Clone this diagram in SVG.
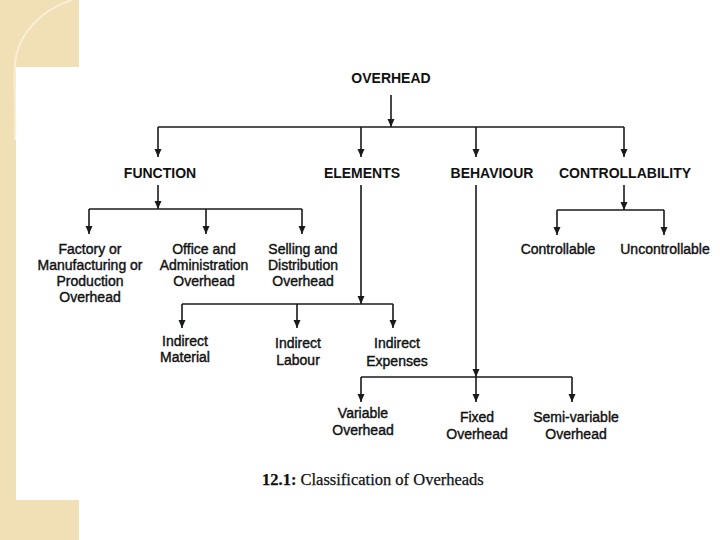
<svg xmlns="http://www.w3.org/2000/svg" width="720" height="540" viewBox="0 0 720 540">
<defs>
<marker id="ah" markerWidth="8" markerHeight="8" refX="8" refY="3.5" orient="auto" markerUnits="userSpaceOnUse">
<path d="M0,0 L8,3.5 L0,7 z" fill="#1a1a1a"/>
</marker>
<style>
.c line, .c path{stroke:#1a1a1a;stroke-width:1.6;fill:none}
.a{marker-end:url(#ah)}
.h{font-family:"Liberation Sans",Arial,sans-serif;font-size:14px;font-weight:bold;fill:#111;text-anchor:middle}
.l{font-family:"Liberation Sans",Arial,sans-serif;font-size:14px;fill:#111;text-anchor:middle;stroke:#111;stroke-width:0.4}
.cap{font-family:"Liberation Serif","Times New Roman",serif;font-size:16.5px;fill:#111;stroke:#111;stroke-width:0.25}
</style>
</defs>
<rect width="720" height="540" fill="#ffffff"/>
<g id="frame">
<rect x="0" y="0" width="79" height="67" fill="#f1dfb6"/>
<rect x="0" y="0" width="16" height="540" fill="#f1dfb6"/>
<rect x="0" y="500" width="79" height="40" fill="#f1dfb6"/>
<path d="M72,0 C40,10 18,35 15,62 C14,90 16,115 15,140" stroke="#f9efd6" stroke-width="2" fill="none"/>
</g>
<g class="c" id="connectors">
<line class="a" x1="391" y1="95" x2="391" y2="127"/>
<line x1="158" y1="127" x2="624" y2="127"/>
<line class="a" x1="158" y1="127" x2="158" y2="157"/>
<line class="a" x1="361" y1="127" x2="361" y2="157"/>
<line class="a" x1="476" y1="127" x2="476" y2="157"/>
<line class="a" x1="624" y1="127" x2="624" y2="157"/>
<line class="a" x1="158" y1="185" x2="158" y2="209"/>
<line x1="89" y1="209" x2="302" y2="209"/>
<line class="a" x1="89" y1="209" x2="89" y2="234"/>
<line class="a" x1="206" y1="209" x2="206" y2="234"/>
<line class="a" x1="302" y1="209" x2="302" y2="234"/>
<line class="a" x1="361" y1="185" x2="361" y2="304"/>
<line x1="182" y1="304" x2="393" y2="304"/>
<line class="a" x1="182" y1="304" x2="182" y2="328"/>
<line class="a" x1="297" y1="304" x2="297" y2="328"/>
<line class="a" x1="393" y1="304" x2="393" y2="328"/>
<line class="a" x1="476" y1="185" x2="476" y2="377"/>
<line x1="361" y1="377" x2="572" y2="377"/>
<line class="a" x1="361" y1="377" x2="361" y2="402"/>
<line class="a" x1="476" y1="377" x2="476" y2="402"/>
<line class="a" x1="572" y1="377" x2="572" y2="402"/>
<line class="a" x1="624" y1="185" x2="624" y2="210"/>
<line x1="557" y1="210" x2="664" y2="210"/>
<line class="a" x1="557" y1="210" x2="557" y2="235"/>
<line class="a" x1="664" y1="210" x2="664" y2="235"/>
</g>
<g id="overhead"><text class="h" x="391" y="83">OVERHEAD</text></g>
<g id="function"><text class="h" x="160" y="178">FUNCTION</text></g>
<g id="elements"><text class="h" x="362" y="178">ELEMENTS</text></g>
<g id="behaviour"><text class="h" x="492" y="178">BEHAVIOUR</text></g>
<g id="controllability"><text class="h" x="625" y="178">CONTROLLABILITY</text></g>
<g id="factory"><text class="l" x="90" y="254">Factory or</text><text class="l" x="90" y="270">Manufacturing or</text><text class="l" x="90" y="286">Production</text><text class="l" x="90" y="302">Overhead</text></g>
<g id="office"><text class="l" x="204" y="254">Office and</text><text class="l" x="204" y="270">Administration</text><text class="l" x="204" y="286">Overhead</text></g>
<g id="selling"><text class="l" x="303" y="254">Selling and</text><text class="l" x="303" y="270">Distribution</text><text class="l" x="303" y="286">Overhead</text></g>
<g id="controllable"><text class="l" x="558" y="254">Controllable</text></g>
<g id="uncontrollable"><text class="l" x="665" y="254">Uncontrollable</text></g>
<g id="material"><text class="l" x="185" y="346">Indirect</text><text class="l" x="185" y="362">Material</text></g>
<g id="labour"><text class="l" x="298" y="348">Indirect</text><text class="l" x="298" y="365">Labour</text></g>
<g id="expenses"><text class="l" x="397" y="348">Indirect</text><text class="l" x="397" y="366">Expenses</text></g>
<g id="variable"><text class="l" x="363" y="418">Variable</text><text class="l" x="363" y="435">Overhead</text></g>
<g id="fixed"><text class="l" x="477" y="422">Fixed</text><text class="l" x="477" y="439">Overhead</text></g>
<g id="semivariable"><text class="l" x="576" y="422">Semi-variable</text><text class="l" x="576" y="439">Overhead</text></g>
<g id="caption"><text class="cap" x="262" y="485"><tspan font-weight="bold">12.1:</tspan> Classification of Overheads</text></g>
</svg>
